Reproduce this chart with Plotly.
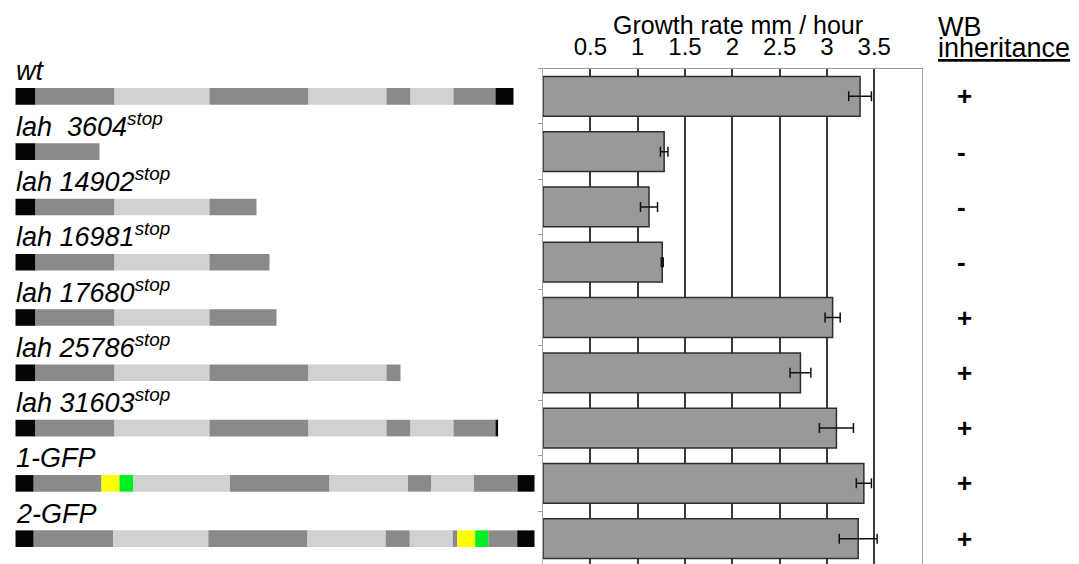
import plotly.graph_objects as go

# ---------------- data ----------------
constructs = ["wt", "lah  3604", "lah 14902", "lah 16981", "lah 17680",
              "lah 25786", "lah 31603", "1-GFP", "2-GFP"]
has_stop = [False, True, True, True, True, True, True, False, False]
growth = [3.35, 1.28, 1.12, 1.26, 3.06, 2.72, 3.10, 3.39, 3.33]
growth_err = [0.12, 0.04, 0.09, 0.01, 0.08, 0.11, 0.18, 0.08, 0.20]
wb_inheritance = ["+", "-", "-", "-", "+", "+", "+", "+", "+"]
tick_vals = [0.5, 1, 1.5, 2, 2.5, 3, 3.5]
tick_text = ["0.5", "1", "1.5", "2", "2.5", "3", "3.5"]

# gene schematic (gene units); K=terminal, D=dark domain, L=light domain, Y=yellow, G=green
wt_edges = [0, 20, 99, 194, 293, 371, 395, 438, 480, 498]
wt_kinds = ["K", "D", "L", "D", "L", "D", "L", "D", "K"]
stop_ends = [84, 241, 254, 261, 385, 480]          # truncation points for stop alleles
stop_caps = [0, 0, 0, 0, 0, 2.6]                   # visible stop mark length
gfp1_edges = [0, 18.2, 86, 104, 118, 214.5, 314, 392.5, 415.5, 458.5, 502, 519]
gfp1_kinds = ["K", "D", "Y", "G", "L", "D", "L", "D", "L", "D", "K"]
gfp2_edges = [0, 18.2, 97.5, 192.8, 292, 370.2, 394.3, 437.3, 441.8, 459.7, 472.8, 501.7, 519]
gfp2_kinds = ["K", "D", "L", "D", "L", "D", "L", "D", "Y", "G", "D", "K"]

# ---------------- styles / geometry ----------------
W, H = 1079, 564
KIND_COLORS = {"K": "#050505", "D": "#8a8a8a", "L": "#d1d0d3", "Y": "#ffff00", "G": "#00ee22"}
FONT = "Liberation Sans, Arial, sans-serif"
plot_top_px = 68.7
row_px = 55.29
y_range = [-0.5 + (H - plot_top_px) / row_px, -0.5]
y_domain = [0, 1 - plot_top_px / H]
bar_x0_px, bar_x1_px = 543, 921.6


def px_x(p):
    return p / W


def px_y(p):
    return 1 - p / H


# build schematic segments
seg_base, seg_len, seg_row, seg_col = [], [], [], []


def add_segments(row, edges, kinds, stop=None):
    for i, k in enumerate(kinds):
        a, b = edges[i], edges[i + 1]
        if stop is not None:
            if a >= stop:
                break
            b = min(b, stop)
            if k == "K" and i > 0:
                continue
        seg_base.append(a)
        seg_len.append(b - a)
        seg_row.append(row)
        seg_col.append(KIND_COLORS[k])


add_segments(0, wt_edges, wt_kinds)
for j, end in enumerate(stop_ends):
    add_segments(j + 1, wt_edges, wt_kinds, stop=end)
    if stop_caps[j] > 0:
        seg_base.append(end)
        seg_len.append(stop_caps[j])
        seg_row.append(j + 1)
        seg_col.append(KIND_COLORS["K"])
add_segments(7, gfp1_edges, gfp1_kinds)
add_segments(8, gfp2_edges, gfp2_kinds)

rows = list(range(len(constructs)))

fig = go.Figure()

# growth-rate bars
fig.add_trace(go.Bar(
    x=growth, y=rows, orientation="h", width=0.72,
    marker=dict(color="#999999", line=dict(color="#2e2e2e", width=1.5)),
    error_x=dict(type="data", array=growth_err, color="#111111", thickness=1.5, width=5),
    xaxis="x", yaxis="y", showlegend=False, hoverinfo="x+y",
))

# gene schematics
fig.add_trace(go.Bar(
    base=seg_base, x=seg_len, y=seg_row, orientation="h", width=0.3,
    marker=dict(color=seg_col, line=dict(width=0)),
    xaxis="x2", yaxis="y2", showlegend=False, hoverinfo="skip",
))

annotations = []
# construct labels
for r, name in enumerate(constructs):
    txt = "<i>" + name.replace("  ", "\u00a0 ") + ("<sup>stop</sup>" if has_stop[r] else "") + "</i>"
    annotations.append(dict(
        x=-1.5, y=r, xref="x2", yref="y2", text=txt, showarrow=False,
        xanchor="left", yanchor="bottom", yshift=8,
        font=dict(family=FONT, size=27, color="black"),
    ))
# WB inheritance signs
for r, s in enumerate(wb_inheritance):
    annotations.append(dict(
        x=px_x(955), y=r, xref="paper", yref="y", text="<b>" + s + "</b>", showarrow=False,
        xanchor="left", yanchor="middle",
        font=dict(family=FONT, size=26, color="black"),
    ))
# headers
annotations.append(dict(
    x=px_x(738), y=px_y(9), xref="paper", yref="paper", text="Growth rate mm / hour",
    showarrow=False, xanchor="center", yanchor="top",
    font=dict(family=FONT, size=25, color="black"),
))
annotations.append(dict(
    x=px_x(936), y=px_y(10), xref="paper", yref="paper", text="WB",
    showarrow=False, xanchor="left", yanchor="top",
    font=dict(family=FONT, size=27, color="black"),
))
annotations.append(dict(
    x=px_x(936), y=px_y(31), xref="paper", yref="paper", text="<u>inheritance</u>",
    showarrow=False, xanchor="left", yanchor="top",
    font=dict(family=FONT, size=27, color="black"),
))

fig.update_layout(
    width=W, height=H,
    margin=dict(l=0, r=0, t=0, b=0),
    paper_bgcolor="white", plot_bgcolor="white",
    barmode="overlay",
    annotations=annotations,
    xaxis=dict(
        domain=[px_x(bar_x0_px), px_x(bar_x1_px)], range=[0, 4], side="top", anchor="y",
        tickvals=tick_vals, ticktext=tick_text, ticks="", ticklabelstandoff=3,
        tickfont=dict(family=FONT, size=24, color="black"),
        showgrid=True, gridcolor="#3a3a3a", gridwidth=1.5, zeroline=False,
        showline=True, linecolor="#9a9a9a", linewidth=1.2, mirror=False,
    ),
    yaxis=dict(
        domain=y_domain, range=y_range, anchor="x",
        tickvals=[i - 0.5 for i in range(len(constructs) + 1)], showticklabels=False,
        ticks="outside", ticklen=4, tickcolor="#999999", tickwidth=1,
        showgrid=False, zeroline=False,
        showline=True, linecolor="#a8a8a8", linewidth=1.2, mirror=True,
    ),
    xaxis2=dict(domain=[0, px_x(540)], range=[-15.5, 524.5], anchor="y2", visible=False),
    yaxis2=dict(domain=y_domain, range=y_range, anchor="x2", visible=False),
)

fig.write_html(
    "out.html",
    config={"displayModeBar": False},
    post_script="document.body.style.margin='0';document.body.style.overflow='hidden';",
)
